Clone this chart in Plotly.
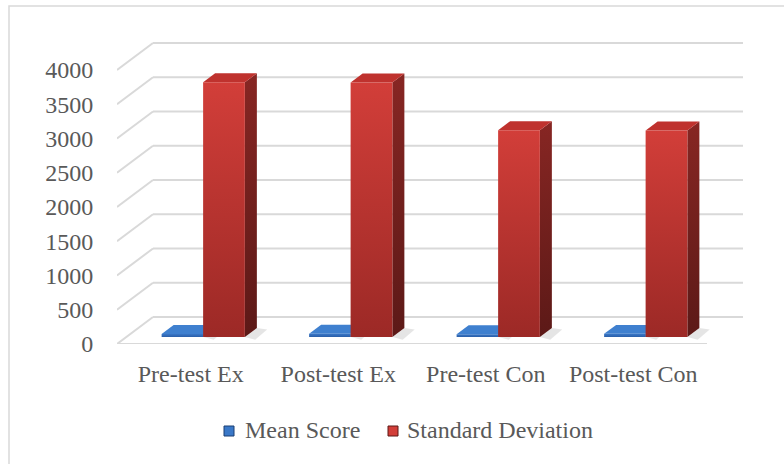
import plotly.graph_objects as go

# ---- data ----
categories = ["Pre-test Ex", "Post-test Ex", "Pre-test Con", "Post-test Con"]
mean_score = [45, 48, 42, 46]
std_dev = [3720, 3715, 3020, 3015]
y_ticks = [0, 500, 1000, 1500, 2000, 2500, 3000, 3500, 4000]
series_names = ["Mean Score", "Standard Deviation"]

# ---- 3-D projection settings (in axis units) ----
DEPTH_DX = 0.2441      # horizontal shift of the back wall
DEPTH_DY = 394         # vertical shift of the back wall
BAR_DX = 0.0814        # depth of a column (x)
BAR_DY = 131           # depth of a column (y)
BAR_BASE = 102         # columns stand slightly behind the front edge
BAR_W = 0.283
OFFSETS = [-0.056, 0.2254]

X_MAX = 3.5 + DEPTH_DX
Y_MAX = 4409

FONT = "Liberation Serif"
TXT = "#595959"
GRID = "#d9d9d9"

styles = [
    dict(front=("#2a5ea8", "#3a78c8"), side=("#1b3f73", "#24508f"), top="#3f80cf"),
    dict(front=("#9c2926", "#d23e39"), side=("#5c1917", "#872623"), top="#bf322e"),
]

fig = go.Figure()

# back wall grid and floor diagonals
for v in y_ticks:
    fig.add_shape(type="line", x0=-0.5 + DEPTH_DX, x1=X_MAX, y0=v + DEPTH_DY, y1=v + DEPTH_DY,
                  line=dict(color=GRID, width=2), layer="below")
    fig.add_shape(type="line", x0=-0.5, x1=-0.5 + DEPTH_DX, y0=v, y1=v + DEPTH_DY,
                  line=dict(color=GRID, width=2), layer="below")
# front edge of the floor
fig.add_shape(type="line", x0=-0.5, x1=3.5, y0=0, y1=0,
              line=dict(color=GRID, width=2), layer="below")


def poly(xs, ys, **kw):
    fig.add_trace(go.Scatter(x=xs + [xs[0]], y=ys + [ys[0]], mode="lines", fill="toself",
                             line=dict(width=0), hoverinfo="skip", showlegend=False, **kw))


for s, values in enumerate([mean_score, std_dev]):
    st = styles[s]
    for i, v in enumerate(values):
        cx = i + OFFSETS[s]
        x0, x1 = cx - BAR_W / 2, cx + BAR_W / 2
        b, t = BAR_BASE, BAR_BASE + v
        # soft floor shadow
        poly([x1, x1 + BAR_DX, x1 + BAR_DX + 0.07, x1 + 0.07],
             [b, b + BAR_DY, b + BAR_DY - 20, b - 40],
             fillcolor="rgba(0,0,0,0.10)")
        # side face
        poly([x1, x1 + BAR_DX, x1 + BAR_DX, x1],
             [b, b + BAR_DY, t + BAR_DY, t],
             fillgradient=dict(type="vertical",
                               colorscale=[[0, st["side"][0]], [1, st["side"][1]]]))
        # top face
        poly([x0, x1, x1 + BAR_DX, x0 + BAR_DX],
             [t, t, t + BAR_DY, t + BAR_DY],
             fillcolor=st["top"])
        # front face
        poly([x0, x1, x1, x0], [b, b, t, t],
             fillgradient=dict(type="vertical",
                               colorscale=[[0, st["front"][0]], [1, st["front"][1]]]))

# legend drawn in paper coordinates
W, H = 784, 464
L, R, T, B = 117, 41, 42, 120
pw, ph = W - L - R, H - T - B


def px_x(p):
    return (p - L) / pw


def px_y(p):
    return (H - B - p) / ph


legend_items = [(224, 243), (388, 405)]
for k, (sq, tx) in enumerate(legend_items):
    st = styles[k]
    fig.add_shape(type="rect", xref="paper", yref="paper",
                  x0=px_x(sq), x1=px_x(sq + 10), y0=px_y(436), y1=px_y(426),
                  fillcolor=st["front"][1], line=dict(color=st["side"][0], width=1))
    fig.add_annotation(xref="paper", yref="paper", x=px_x(tx), y=px_y(430),
                       xanchor="left", yanchor="middle", showarrow=False,
                       text=series_names[k], font=dict(family=FONT, size=24, color=TXT))

# outer chart border
fig.add_shape(type="rect", xref="paper", yref="paper",
              x0=px_x(9), x1=px_x(810), y0=px_y(490), y1=px_y(6),
              line=dict(color="#d9d9d9", width=1.5), fillcolor="rgba(0,0,0,0)", layer="below")

fig.update_layout(
    width=W, height=H, autosize=False,
    margin=dict(l=L, r=R, t=T, b=B, pad=0),
    paper_bgcolor="white", plot_bgcolor="white",
    showlegend=False,
    font=dict(family=FONT, size=24, color=TXT),
    xaxis=dict(range=[-0.5, X_MAX], tickvals=[0, 1, 2, 3], ticktext=categories,
               showgrid=False, zeroline=False, showline=False,
               ticks="outside", ticklen=8, tickcolor="rgba(0,0,0,0)",
               tickfont=dict(family=FONT, size=24, color=TXT), fixedrange=True),
    yaxis=dict(range=[0, Y_MAX], tickvals=y_ticks, showgrid=False, zeroline=False,
               showline=False, ticks="outside", ticklen=18, tickcolor="rgba(0,0,0,0)",
               tickfont=dict(family=FONT, size=24, color=TXT), fixedrange=True),
)

fig.write_html("out.html")
